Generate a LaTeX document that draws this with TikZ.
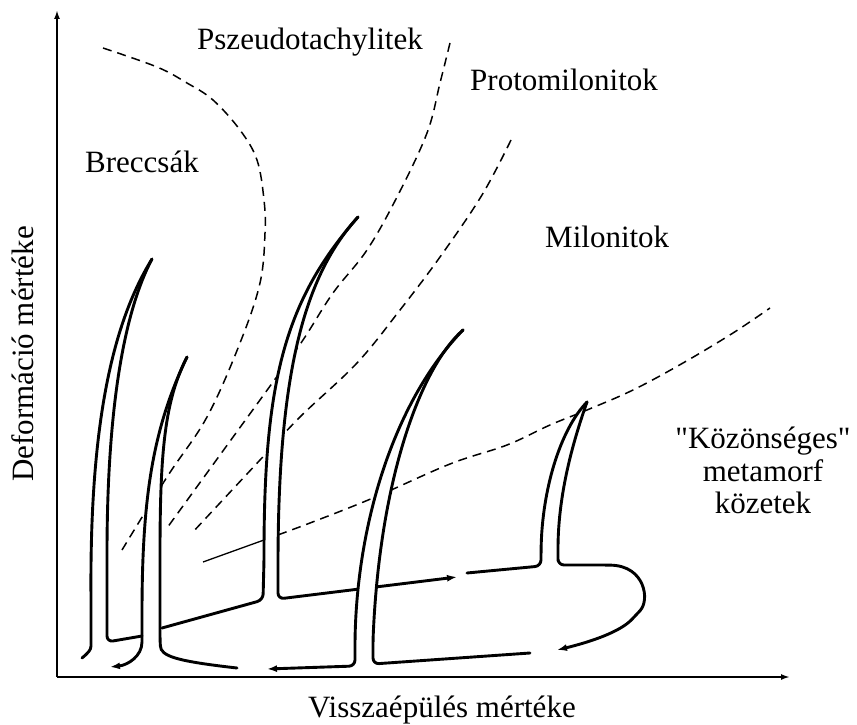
\documentclass[tikz,border=0pt]{standalone}
\usepackage{fontspec}
\setmainfont{Liberation Serif}[Ligatures=TeXOff]
\usetikzlibrary{arrows.meta}
\begin{document}
\begin{tikzpicture}[x=1pt,y=-1pt,
  lbl/.style={font=\fontsize{31}{33}\selectfont, inner sep=0pt, anchor=base west},
  clbl/.style={font=\fontsize{31}{33}\selectfont, inner sep=0pt, anchor=base},
  vein/.style={line width=2.9pt, line cap=round, line join=round, rounded corners=6pt},
  bound/.style={line width=1.5pt, dash pattern=on 9pt off 6pt},
  axisline/.style={line width=2pt, -{Latex[length=9pt,width=6pt]}},
  headstart/.style={{Latex[length=10pt,width=7pt]}-},
  headend/.style={-{Latex[length=10pt,width=7pt]}},
  mask/.style={fill=white, draw=none}]
\useasboundingbox (0,0) rectangle (857,725);

% axes
\coordinate (O) at (57,677);
\coordinate (Ytop) at (57,10);
\coordinate (Xend) at (790,677);
\draw[axisline] (O) -- (Ytop);
\draw[axisline] (O) -- (Xend);

% labels
\node[lbl] (pszeudo) at (197,50) {Pszeudotachylitek};
\node[lbl] (proto) at (470,90) {Protomilonitok};
\node[lbl] (breccsak) at (85,172) {Breccsák};
\node[lbl] (milonit) at (545,247) {Milonitok};
\node[clbl] (koz1) at (763,448) {"Közönséges"};
\node[clbl] (koz2) at (763,481) {metamorf};
\node[clbl] (koz3) at (763,513) {közetek};
\node[lbl] (xlab) at (308,717) {Visszaépülés mértéke};
\node[clbl, rotate=90] (ylab) at (33,354) {Deformáció mértéke};

% dashed boundaries
\draw[bound] plot[smooth,tension=0.6] coordinates {(103,48) (157,67) (187,83) (213,100) (240,130) (257,160) (264,200) (265,233) (260,283) (240,343) (207,417) (167,477) (122,550)};
\draw[bound] plot[smooth,tension=0.6] coordinates {(450,43) (440,83) (427,133) (397,197) (367,250) (333,293) (303,340) (273,382) (220,455) (167,528)};
\draw[bound] plot[smooth,tension=0.6] coordinates {(511,140) (482,195) (440,257) (400,310) (357,363) (300,417) (260,460) (192,533)};
\draw[line width=1.3pt] (203,562) -- (264,540);
\draw[bound] plot[smooth,tension=0.6] coordinates {(264,540) (310,523) (373,498) (450,464) (507,445) (550,425) (587,410) (633,390) (683,363) (733,333) (770,308)};

% spike 1
\draw[vein] (82,658) .. controls (88,653) and (91,650) .. (91,640) -- (91,600)
   .. controls (90,440) and (108,330) .. (152,259);
\draw[vein] (152,259) .. controls (126,308) and (107,400) .. (107,560) -- (107,642) -- (142,636);

% spike 2
\path[mask] (142,620) .. controls (142,500) and (152,430) .. (187,357)
   .. controls (165,400) and (160,450) .. (160,560) -- (160,625) -- cycle;
\draw[vein, headstart] (110,667) .. controls (128,665) and (142,656) .. (142,636) -- (142,620)
   .. controls (142,500) and (152,430) .. (187,357);
\draw[vein] (187,357) .. controls (165,400) and (160,450) .. (160,560) -- (160,640)
   .. controls (161,656) and (175,661) .. (237,668);

% spike 3
\path[mask] (264,560) .. controls (264,380) and (285,300) .. (358,217)
   .. controls (305,275) and (279,370) .. (278,560) -- (278,595) -- (264,600) -- cycle;
\draw[vein] (162,628) -- (263,600) -- (264,560) .. controls (264,380) and (285,300) .. (358,217);
\draw[vein, headend] (358,217) .. controls (305,275) and (279,370) .. (278,560) -- (278,599) -- (457,577);

% spike 4
\path[mask] (355,640) .. controls (358,520) and (395,400) .. (463,330)
   .. controls (420,368) and (380,480) .. (373,640) -- cycle;
\draw[vein, headstart] (267,669) -- (355,666) -- (355,640) .. controls (358,520) and (395,400) .. (463,330);
\draw[vein] (463,330) .. controls (420,368) and (380,480) .. (373,640) -- (373,664) -- (530,653);

% spike 5
\path[mask] (541,555) .. controls (542,490) and (560,430) .. (587,402)
   .. controls (570,450) and (558,500) .. (558,555) -- cycle;
\draw[vein] (467,573) -- (541,566) -- (541,555) .. controls (542,490) and (560,430) .. (587,402);
\draw[vein, headend] (587,402) .. controls (570,450) and (558,500) .. (558,555) -- (558,565) -- (605,565)
   .. controls (645,566) and (650,600) .. (636,615) .. controls (620,632) and (590,642) .. (557,650);
\end{tikzpicture}
\end{document}
